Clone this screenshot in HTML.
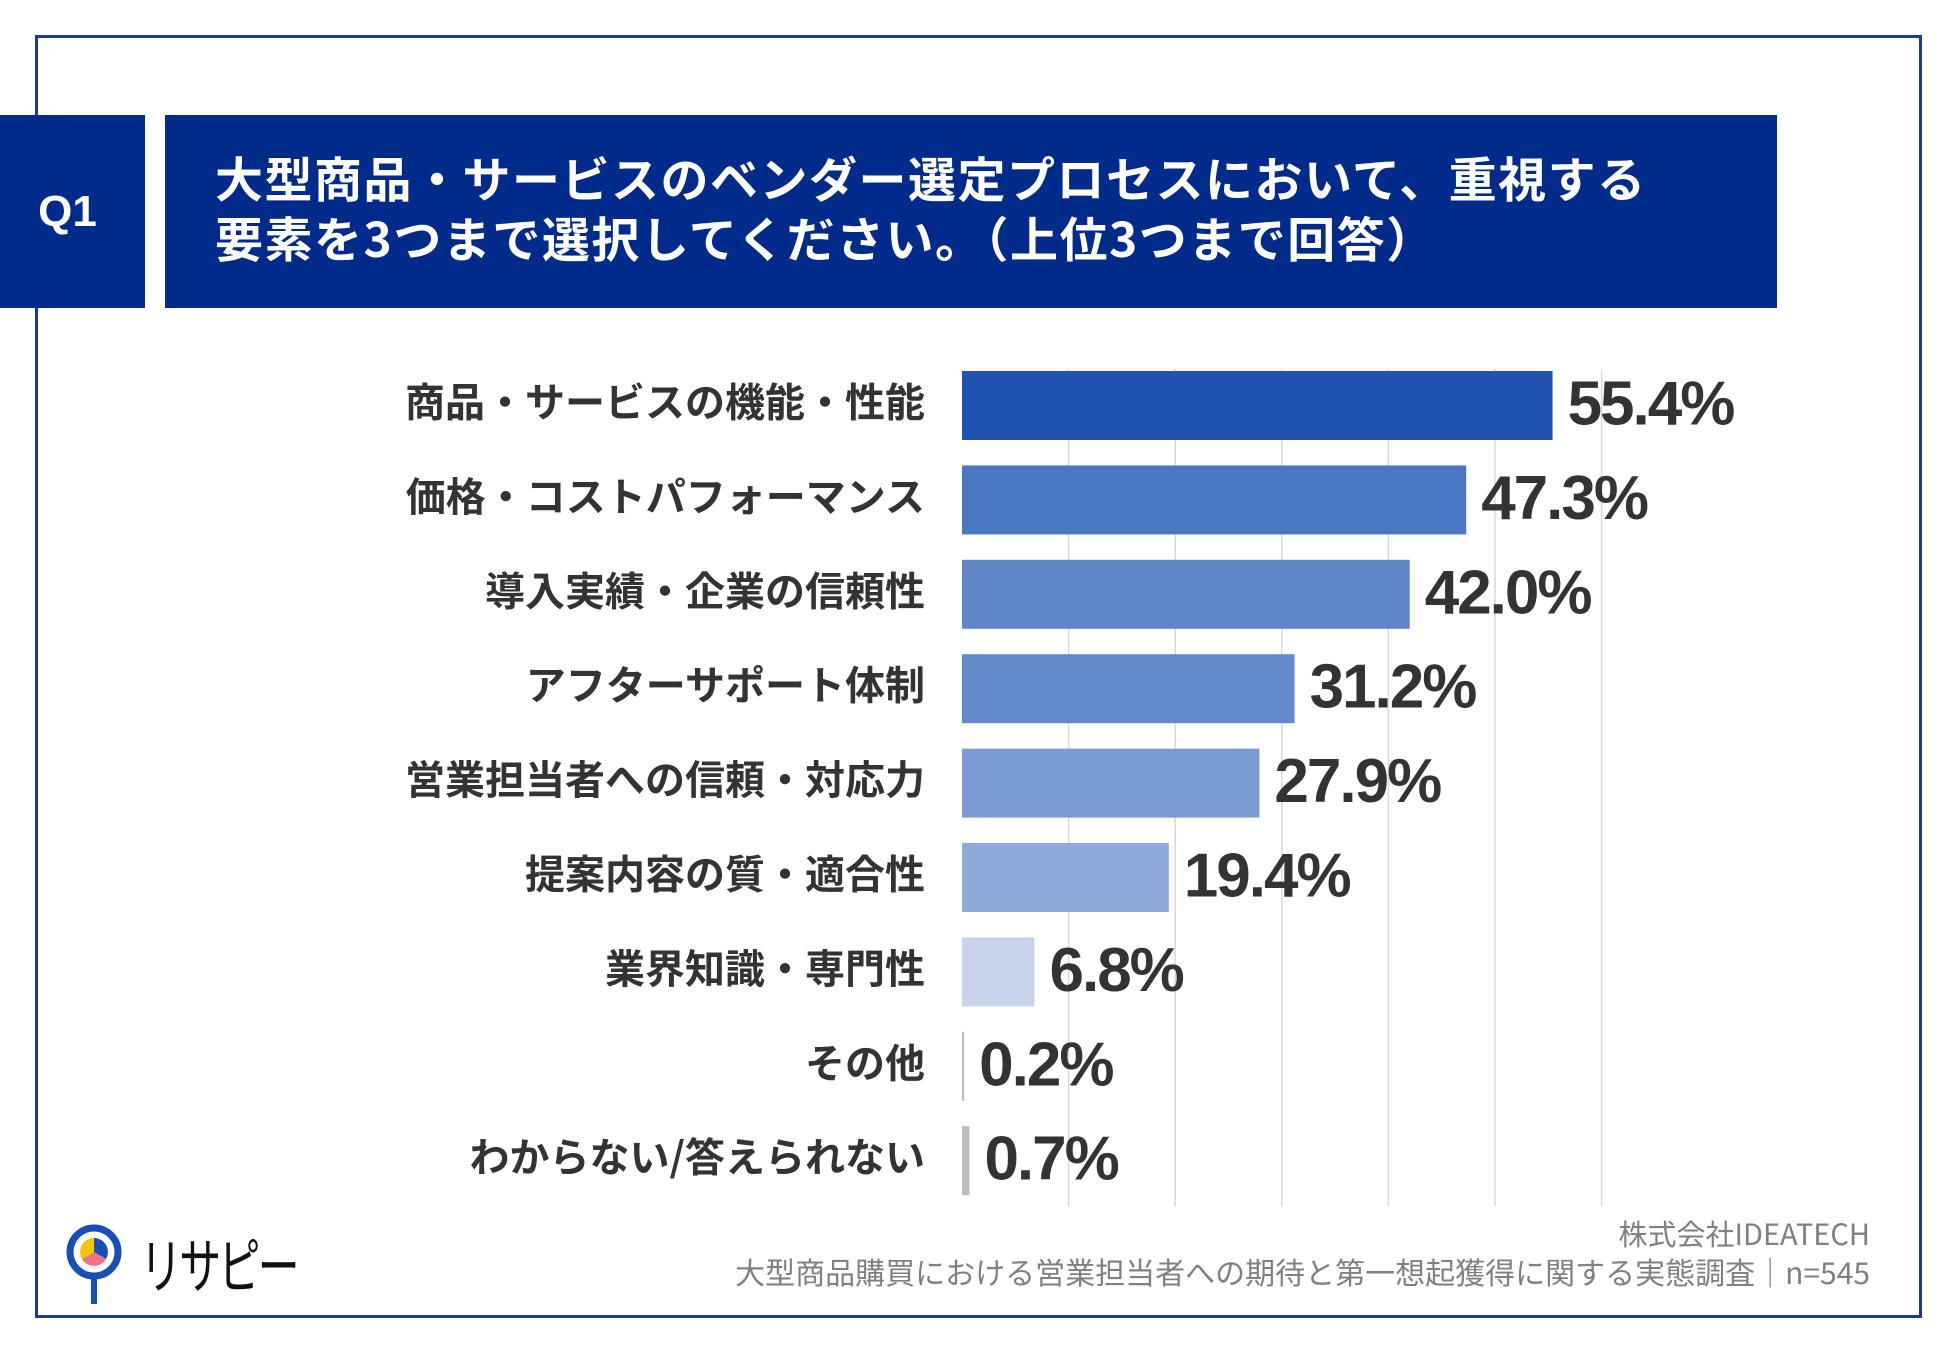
<!DOCTYPE html>
<html><head><meta charset="utf-8"><style>
body{margin:0;width:1950px;height:1350px;background:#fff;position:relative;overflow:hidden;font-family:"Liberation Sans","Noto Sans CJK JP",sans-serif}
.abs{position:absolute}
</style></head><body>
<div class="abs" style="left:35px;top:35px;width:1887px;height:1283px;border:3px solid #1e3a8f;box-sizing:border-box"></div>
<div class="abs" style="left:0;top:115px;width:145px;height:193px;background:#002b8a;color:#fff;font-weight:bold;font-size:44px;display:flex;align-items:center;justify-content:center;padding-right:10px;box-sizing:border-box">Q1</div>
<div class="abs" style="left:165px;top:115px;width:1612px;height:193px;background:#002b8a;color:#fff;font-weight:bold;font-size:48px;letter-spacing:1.5px;line-height:60px;padding:31px 0 0 50px;box-sizing:border-box;font-family:'Noto Sans CJK JP',sans-serif">大型商品・サービスのベンダー選定プロセスにおいて、重視する<br>要素を3つまで選択してください。（上位3つまで回答）</div>
<svg class="abs" style="left:0;top:0" width="1950" height="1350" id="chart"></svg>
<div class="abs" style="right:80px;top:1212px;font-size:29px;color:#808080;font-family:'Noto Sans CJK JP',sans-serif">株式会社IDEATECH</div>
<div class="abs" style="right:80px;top:1249px;font-size:30px;color:#808080;font-family:'Noto Sans CJK JP',sans-serif">大型商品購買における営業担当者への期待と第一想起獲得に関する実態調査｜n=545</div>
<svg class="abs" style="left:60px;top:1218px" width="70" height="90">
<circle cx="34" cy="34" r="24" fill="#fff" stroke="#1450b8" stroke-width="7"/>
<path d="M34 34 L34 20 A14 14 0 0 1 46 41 Z" fill="#1450b8"/>
<path d="M34 34 L46 41 A14 14 0 0 1 22 41 Z" fill="#f07088"/>
<path d="M34 34 L22 41 A14 14 0 0 1 34 20 Z" fill="#f5c400"/>
<rect x="31" y="60" width="6" height="26" fill="#1450b8"/>
</svg>
<div class="abs" style="left:140px;top:1228px;font-size:60px;color:#111;font-family:'Noto Sans CJK JP',sans-serif;line-height:70px;transform:scaleX(0.7);transform-origin:left top;letter-spacing:-4px">リサピー</div>
<script>
const categories=["商品・サービスの機能・性能","価格・コストパフォーマンス","導入実績・企業の信頼性","アフターサポート体制","営業担当者への信頼・対応力","提案内容の質・適合性","業界知識・専門性","その他","わからない/答えられない"];
const values=[55.4,47.3,42.0,31.2,27.9,19.4,6.8,0.2,0.7];
const valueLabels=["55.4%","47.3%","42.0%","31.2%","27.9%","19.4%","6.8%","0.2%","0.7%"];
const gridTicks=[10,20,30,40,50,60];
const colors=["#2153b0","#4a77c2","#5f87c8","#6289c9","#7a9bd1","#8eaad9","#c7d4ec","#bdbdbd","#bdbdbd"];
const NS="http://www.w3.org/2000/svg";
const svg=document.getElementById('chart');
const x0=962, pxPer=10.66, top0=371, pitch=94.4, bh=69;
const xs=v=>x0+v*pxPer;
const ys=i=>top0+i*pitch;
function mk(t,a){const e=document.createElementNS(NS,t);for(const k in a)e.setAttribute(k,a[k]);svg.appendChild(e);return e;}
gridTicks.forEach(t=>{const l=mk('line',{x1:xs(t),x2:xs(t),y1:369,y2:1206,stroke:'#d9d9d9','stroke-width':1.5});

});
categories.forEach((c,i)=>{
const r=mk('rect',{x:x0,y:ys(i),width:Math.max(values[i]*pxPer,2),height:bh,fill:colors[i]});


const t=mk('text',{x:925,y:ys(i)+bh/2+11,'text-anchor':'end','font-size':40,'font-weight':'bold',fill:'#333','font-family':'Noto Sans CJK JP,sans-serif'});
t.textContent=c;


const v=mk('text',{x:xs(values[i])+15,y:ys(i)+bh/2+19,'font-size':62,'font-weight':'bold',fill:'#333','letter-spacing':'-2','font-family':'Liberation Sans,sans-serif'});
v.textContent=valueLabels[i];


});
</script>
</body></html>
